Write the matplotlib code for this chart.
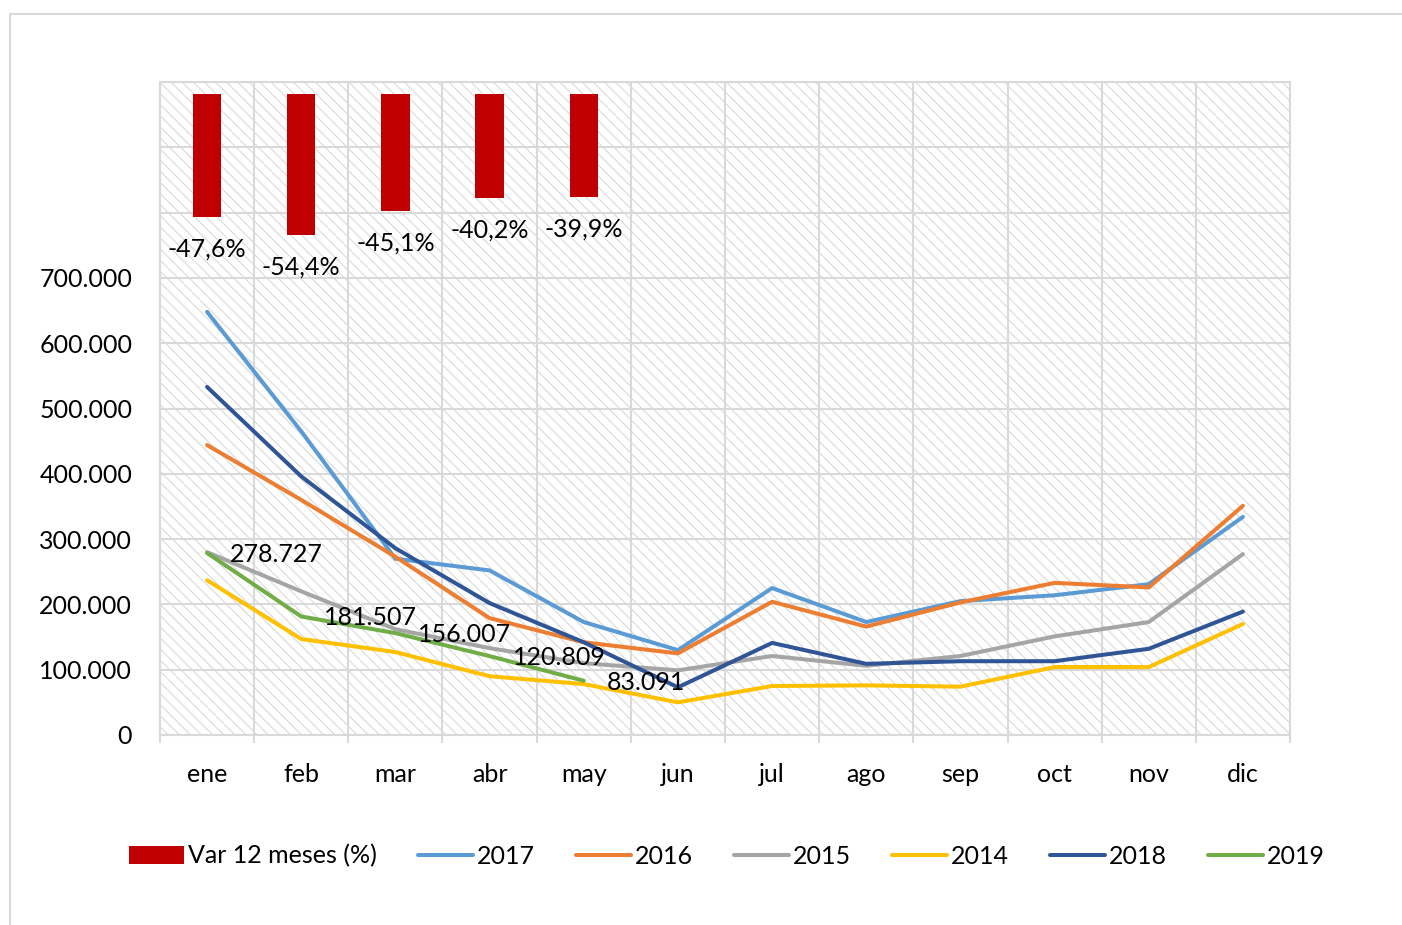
import matplotlib
matplotlib.use("Agg")
import matplotlib.pyplot as plt
from matplotlib.patches import Rectangle
from matplotlib.ticker import FuncFormatter, FixedLocator
import numpy as np

plt.rcParams['font.family'] = ['Lato', 'DejaVu Sans']
plt.rcParams['hatch.linewidth'] = 0.8

months = ["ene", "feb", "mar", "abr", "may", "jun", "jul", "ago", "sep", "oct", "nov", "dic"]

var12 = [-47.6, -54.4, -45.1, -40.2, -39.9]
var12_labels = ["-47,6%", "-54,4%", "-45,1%", "-40,2%", "-39,9%"]

s2017 = [648000, 465000, 270000, 252000, 173000, 130000, 225000, 173000, 205000, 214000, 231000, 334000]
s2016 = [444000, 360000, 273000, 179000, 142000, 125000, 204000, 166000, 203000, 233000, 226000, 351000]
s2015 = [280000, 220000, 162000, 133000, 110000, 99000, 121000, 106000, 121000, 151000, 173000, 277000]
s2014 = [237000, 147000, 127000, 90000, 78000, 50000, 75000, 76000, 74000, 104000, 104000, 170000]
s2018 = [533000, 396000, 286000, 202000, 142000, 73000, 141000, 109000, 113000, 113000, 132000, 189000]
s2019 = [278727, 181507, 156007, 120809, 83091]
s2019_labels = ["278.727", "181.507", "156.007", "120.809", "83.091"]

series = [
    ("2017", s2017, "#5B9BD5"),
    ("2016", s2016, "#ED7D31"),
    ("2015", s2015, "#A5A5A5"),
    ("2014", s2014, "#FFC000"),
    ("2018", s2018, "#2F5597"),
    ("2019", s2019, "#70AD47"),
]

W, H = 1402, 925
fig = plt.figure(figsize=(W / 100, H / 100), dpi=100)
fig.patch.set_facecolor("white")

# outer chart frame
fig.add_artist(Rectangle((10 / W, -0.1), 2.0, (1 - 14 / H) + 0.1, transform=fig.transFigure,
                         facecolor="none", edgecolor="#D9D9D9", lw=1.5))

L, R, T, B = 160, 1290, 82, 735
ax = fig.add_axes([L / W, 1 - B / H, (R - L) / W, (B - T) / H])
ax.set_facecolor("white")

grid_c = "#D9D9D9"
ax.add_patch(Rectangle((0, 0), 1, 1, transform=ax.transAxes, facecolor="white",
                       edgecolor="#DADADA", hatch="\\\\\\", lw=0, zorder=0.1))

x = np.arange(len(months))
ax.set_xlim(-0.5, len(months) - 0.5)
ax.set_ylim(0, 1000000)

ax.set_xticks(x)
ax.set_xticklabels(months, fontsize=18)
ax.xaxis.set_minor_locator(FixedLocator(np.arange(-0.5, len(months), 1.0)))
ax.tick_params(axis="x", which="major", length=0, pad=20)
ax.tick_params(axis="x", which="minor", length=6, width=1.5, color=grid_c)
ax.grid(axis="x", which="minor", color=grid_c, lw=1.5, zorder=0.5)

yt = np.arange(0, 1000001, 100000)
ax.set_yticks(yt)
ax.yaxis.set_major_formatter(FuncFormatter(
    lambda v, p: ("{:,.0f}".format(v).replace(",", ".") if v <= 700000 else "")))
ax.tick_params(axis="y", length=0, pad=20, labelsize=18)
ax.grid(axis="y", which="major", color=grid_c, lw=1.5, zorder=0.5)
ax.set_axisbelow(True)
for s in ax.spines.values():
    s.set_color(grid_c)
    s.set_linewidth(1.5)

handles = []
for name, vals, col in series:
    ln, = ax.plot(np.arange(len(vals)), vals, color=col, lw=2.9, label=name,
                  solid_capstyle="round", zorder=3)
    handles.append(ln)

for i, (v, lab) in enumerate(zip(s2019, s2019_labels)):
    ax.annotate(lab, (i, v), xytext=(16.5, -1), textcoords="offset points",
                ha="left", va="center", fontsize=18, color="black", zorder=5)

ax2 = ax.twinx()
ax2.set_ylim(-246.9, 4.47)
bars = ax2.bar(np.arange(len(var12)), var12, width=0.30, color="#C00000",
               label="Var 12 meses (%)", zorder=3)
for i, (v, lab) in enumerate(zip(var12, var12_labels)):
    ax2.annotate(lab, (i, v), xytext=(0, -23), textcoords="offset points",
                 ha="center", va="center", fontsize=18, color="black")
ax2.set_yticks([])
for s in ax2.spines.values():
    s.set_visible(False)

leg = fig.legend([bars] + handles, ["Var 12 meses (%)"] + [s[0] for s in series],
                 loc="center", bbox_to_anchor=(727 / W, 1 - 856 / H), ncol=7,
                 frameon=False, fontsize=18, handlelength=2.2, handleheight=0.7,
                 handletextpad=0.15, columnspacing=1.65, borderaxespad=0)

fig.savefig("out.png", dpi=100, facecolor="white")
